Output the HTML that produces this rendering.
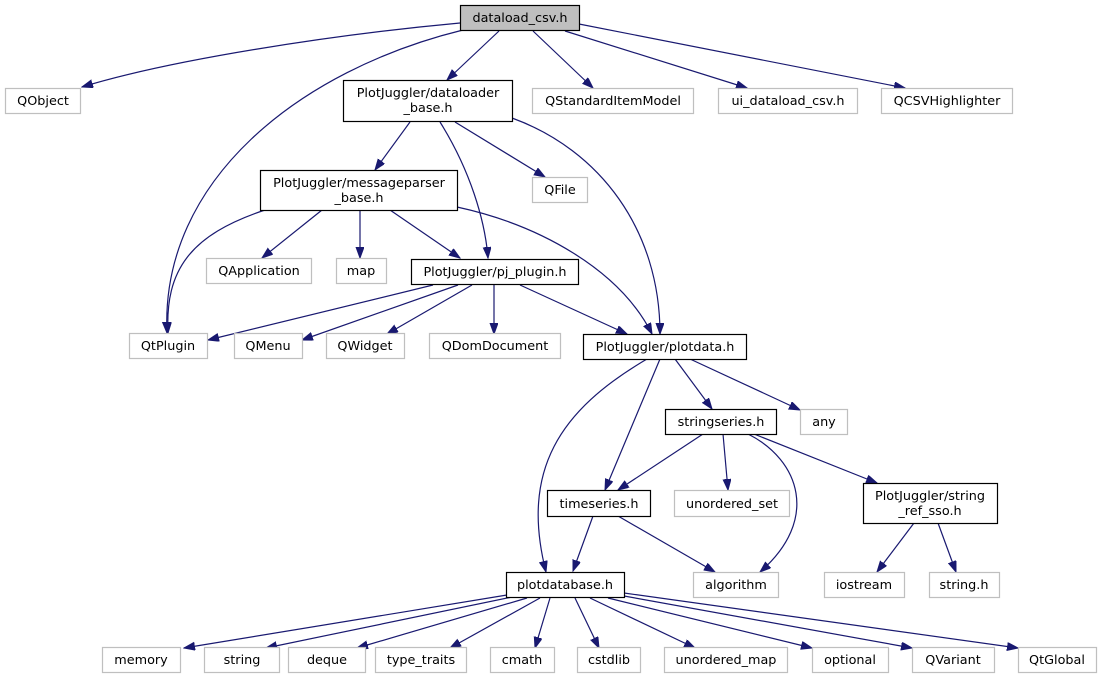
<!DOCTYPE html>
<html><head><meta charset="utf-8"><style>
html,body{margin:0;padding:0;background:#fff;}
svg{display:block;}
text{font-family:"DejaVu Sans","Liberation Sans",sans-serif;font-size:12.8px;fill:#000;text-anchor:middle;}
.g{fill:#fff;stroke:#bfbfbf;stroke-width:1.2;}
.b{fill:#fff;stroke:#000;stroke-width:1.2;}
.e{fill:none;stroke:#191970;stroke-width:1.2;marker-end:url(#a);}
</style></head><body>
<svg width="1101" height="679" viewBox="0 0 1101 679" xmlns="http://www.w3.org/2000/svg">
<defs><marker id="a" markerUnits="userSpaceOnUse" markerWidth="12" markerHeight="9" refX="11" refY="4" orient="auto"><path d="M0,0 L11,4 L0,8 z" fill="#191970" stroke="#191970"/></marker></defs>
<g>
<path class="e" d="M460,23 C330,35 170,60 82,87"/>
<path class="e" d="M463,30 C300,70 160,180 167,333"/>
<path class="e" d="M499,31 L447,80"/>
<path class="e" d="M533,31 L593,88"/>
<path class="e" d="M565,31 L747,88"/>
<path class="e" d="M579,24 L905,88"/>
<path class="e" d="M410,122 L375,170"/>
<path class="e" d="M440,122 C470,170 485,220 488,258"/>
<path class="e" d="M455,122 L545,177"/>
<path class="e" d="M512,118 C600,150 660,230 660,334"/>
<path class="e" d="M265,210 C190,235 165,270 168,333"/>
<path class="e" d="M322,210 L262,258"/>
<path class="e" d="M360,210 L360,258"/>
<path class="e" d="M390,210 L460,258"/>
<path class="e" d="M457,207 C540,225 620,270 652,334"/>
<path class="e" d="M433,285 L208,340"/>
<path class="e" d="M458,285 L302,340"/>
<path class="e" d="M472,285 L387,334"/>
<path class="e" d="M494,285 L494,334"/>
<path class="e" d="M520,285 L627,334"/>
<path class="e" d="M647,359 C560,410 520,470 546,572"/>
<path class="e" d="M660,359 L605,490"/>
<path class="e" d="M675,359 L712,409"/>
<path class="e" d="M690,359 L800,410"/>
<path class="e" d="M703,434 L618,490"/>
<path class="e" d="M723,434 L728,490"/>
<path class="e" d="M748,434 C800,460 820,520 760,572"/>
<path class="e" d="M754,434 L877,483"/>
<path class="e" d="M593,516 L573,571"/>
<path class="e" d="M618,516 L715,572"/>
<path class="e" d="M914,523 L877,572"/>
<path class="e" d="M938,523 L956,572"/>
<path class="e" d="M507,595 L184,648"/>
<path class="e" d="M512,597 L266,648"/>
<path class="e" d="M527,598 L357,648"/>
<path class="e" d="M540,598 L450,648"/>
<path class="e" d="M550,598 L535,648"/>
<path class="e" d="M575,598 L599,648"/>
<path class="e" d="M590,598 L695,648"/>
<path class="e" d="M608,598 L812,648"/>
<path class="e" d="M624,596 L912,648"/>
<path class="e" d="M624,593 L1018,648"/>
</g>
<g>
<rect x="460.5" y="5.5" width="119" height="25" fill="#bfbfbf" stroke="#000" stroke-width="1.2"/><text x="520" y="22">dataload_csv.h</text>
<rect class="g" x="5.5" y="88.5" width="75" height="25"/><text x="43" y="105">QObject</text>
<rect class="b" x="343.5" y="80.5" width="169" height="41"/><text x="428" y="97">PlotJuggler/dataloader</text><text x="428" y="112">_base.h</text>
<rect class="g" x="532.5" y="88.5" width="161" height="25"/><text x="613" y="105">QStandardItemModel</text>
<rect class="g" x="718.5" y="88.5" width="139" height="25"/><text x="788" y="105">ui_dataload_csv.h</text>
<rect class="g" x="881.5" y="88.5" width="131" height="25"/><text x="947" y="105">QCSVHighlighter</text>
<rect class="b" x="260.5" y="170.5" width="197" height="40"/><text x="359" y="187">PlotJuggler/messageparser</text><text x="359" y="202">_base.h</text>
<rect class="g" x="532.5" y="177.5" width="55" height="25"/><text x="560" y="194">QFile</text>
<rect class="g" x="206.5" y="258.5" width="105" height="25"/><text x="259" y="275">QApplication</text>
<rect class="g" x="336.5" y="258.5" width="50" height="25"/><text x="361" y="275">map</text>
<rect class="b" x="411.5" y="259.5" width="167" height="25"/><text x="495" y="276">PlotJuggler/pj_plugin.h</text>
<rect class="g" x="129.5" y="333.5" width="78" height="25"/><text x="168" y="350">QtPlugin</text>
<rect class="g" x="234.5" y="333.5" width="68" height="25"/><text x="268" y="350">QMenu</text>
<rect class="g" x="326.5" y="333.5" width="78" height="25"/><text x="365" y="350">QWidget</text>
<rect class="g" x="429.5" y="333.5" width="131" height="25"/><text x="495" y="350">QDomDocument</text>
<rect class="b" x="583.5" y="334.5" width="163" height="25"/><text x="665" y="351">PlotJuggler/plotdata.h</text>
<rect class="b" x="665.5" y="409.5" width="111" height="25"/><text x="721" y="426">stringseries.h</text>
<rect class="g" x="800.5" y="409.5" width="47" height="25"/><text x="824" y="426">any</text>
<rect class="b" x="547.5" y="490.5" width="103" height="26"/><text x="599" y="508">timeseries.h</text>
<rect class="g" x="674.5" y="490.5" width="115" height="26"/><text x="732" y="508">unordered_set</text>
<rect class="b" x="863.5" y="483.5" width="134" height="40"/><text x="930" y="500">PlotJuggler/string</text><text x="930" y="515">_ref_sso.h</text>
<rect class="b" x="506.5" y="572.5" width="118" height="25"/><text x="565" y="589">plotdatabase.h</text>
<rect class="g" x="693.5" y="572.5" width="85" height="25"/><text x="736" y="589">algorithm</text>
<rect class="g" x="824.5" y="572.5" width="80" height="25"/><text x="864" y="589">iostream</text>
<rect class="g" x="929.5" y="572.5" width="70" height="25"/><text x="964" y="589">string.h</text>
<rect class="g" x="102.5" y="647.5" width="78" height="25"/><text x="141" y="664">memory</text>
<rect class="g" x="204.5" y="647.5" width="75" height="25"/><text x="242" y="664">string</text>
<rect class="g" x="288.5" y="647.5" width="77" height="25"/><text x="327" y="664">deque</text>
<rect class="g" x="375.5" y="647.5" width="91" height="25"/><text x="421" y="664">type_traits</text>
<rect class="g" x="490.5" y="647.5" width="64" height="25"/><text x="522" y="664">cmath</text>
<rect class="g" x="577.5" y="647.5" width="63" height="25"/><text x="609" y="664">cstdlib</text>
<rect class="g" x="664.5" y="647.5" width="123" height="25"/><text x="726" y="664">unordered_map</text>
<rect class="g" x="812.5" y="647.5" width="76" height="25"/><text x="850" y="664">optional</text>
<rect class="g" x="912.5" y="647.5" width="82" height="25"/><text x="953" y="664">QVariant</text>
<rect class="g" x="1018.5" y="647.5" width="78" height="25"/><text x="1057" y="664">QtGlobal</text>
</g>
</svg>
</body></html>
